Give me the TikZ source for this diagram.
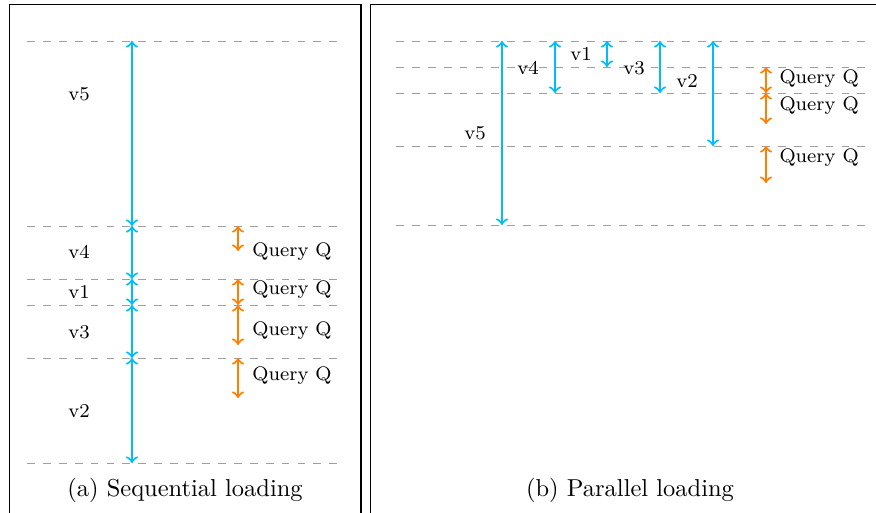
\documentclass[tikz,border=0pt]{standalone}
\definecolor{loadblue}{RGB}{0,189,250}
\definecolor{qorange}{RGB}{255,128,0}
\tikzset{
  guide/.style={draw=gray!75, line width=0.4pt, dash pattern=on 3.2pt off 3.3pt},
  load/.style={<->, draw=loadblue, line width=0.85pt},
  query/.style={<->, draw=qorange, line width=0.85pt},
  lbl/.style={font=\footnotesize, inner sep=0pt},
  qlbl/.style={font=\footnotesize, inner sep=0pt, anchor=west},
  captext/.style={font=\normalsize, inner sep=0pt},
  panel/.style={draw=black, line width=0.5pt}
}
\begin{document}
\begin{tikzpicture}[x=0.4085pt,y=-0.4085pt]
\useasboundingbox (0,0) rectangle (876,512);
% panel frames
\draw[panel] (9.5,4.5) rectangle (361,540);
\draw[panel] (370.5,4.5) rectangle (900,540);

% ---------- (a) Sequential loading ----------
\foreach \y in {41,226,279,305,358,463} \draw[guide] (27,\y) -- (338,\y);
\coordinate (L0) at (132,41);
\coordinate (L1) at (132,226);
\coordinate (L2) at (132,279);
\coordinate (L3) at (132,305);
\coordinate (L4) at (132,358);
\coordinate (L5) at (132,463);
\draw[load] (L0) -- (L1);
\draw[load] (L1) -- (L2);
\draw[load] (L2) -- (L3);
\draw[load] (L3) -- (L4);
\draw[load] (L4) -- (L5);
\node[lbl] (lv5) at (79,94) {v5};
\node[lbl] (lv4) at (79,252) {v4};
\node[lbl] (lv1) at (79,292) {v1};
\node[lbl] (lv3) at (79,332) {v3};
\node[lbl] (lv2) at (79,411) {v2};

\coordinate (QA1s) at (238,226);
\coordinate (QA1e) at (238,251);
\coordinate (QA2s) at (238,279);
\coordinate (QA2e) at (238,305);
\coordinate (QA3s) at (238,305);
\coordinate (QA3e) at (238,345);
\coordinate (QA4s) at (238,358);
\coordinate (QA4e) at (238,398);
\draw[query] (QA1s) -- (QA1e);
\draw[query] (QA2s) -- (QA2e);
\draw[query] (QA3s) -- (QA3e);
\draw[query] (QA4s) -- (QA4e);
\node[qlbl] (qa1) at (252,252) {Query Q};
\node[qlbl] (qa2) at (252,290) {Query Q};
\node[qlbl] (qa3) at (252,331) {Query Q};
\node[qlbl] (qa4) at (252,376) {Query Q};

\node[captext] (capa) at (185,490) {(a) Sequential loading};

% ---------- (b) Parallel loading ----------
\foreach \y in {41,67,93,146,225} \draw[guide] (396,\y) -- (866,\y);
\coordinate (P5s) at (502,41);
\coordinate (P5e) at (502,225);
\coordinate (P4s) at (555,41);
\coordinate (P4e) at (555,93);
\coordinate (P1s) at (607,41);
\coordinate (P1e) at (607,67);
\coordinate (P3s) at (660,41);
\coordinate (P3e) at (660,93);
\coordinate (P2s) at (713,41);
\coordinate (P2e) at (713,146);
\draw[load] (P5s) -- (P5e);
\draw[load] (P4s) -- (P4e);
\draw[load] (P1s) -- (P1e);
\draw[load] (P3s) -- (P3e);
\draw[load] (P2s) -- (P2e);
\node[lbl] (pv5) at (475,133) {v5};
\node[lbl] (pv4) at (528,68) {v4};
\node[lbl] (pv1) at (581,54) {v1};
\node[lbl] (pv3) at (634,68) {v3};
\node[lbl] (pv2) at (687,81) {v2};

\coordinate (QB1s) at (766,67);
\coordinate (QB1e) at (766,93);
\coordinate (QB2s) at (766,93);
\coordinate (QB2e) at (766,124);
\coordinate (QB3s) at (766,146);
\coordinate (QB3e) at (766,183);
\draw[query] (QB1s) -- (QB1e);
\draw[query] (QB2s) -- (QB2e);
\draw[query] (QB3s) -- (QB3e);
\node[qlbl] (qb1) at (779,79) {Query Q};
\node[qlbl] (qb2) at (779,106) {Query Q};
\node[qlbl] (qb3) at (779,158) {Query Q};

\node[captext] (capb) at (630,490) {(b) Parallel loading};
\end{tikzpicture}
\end{document}
